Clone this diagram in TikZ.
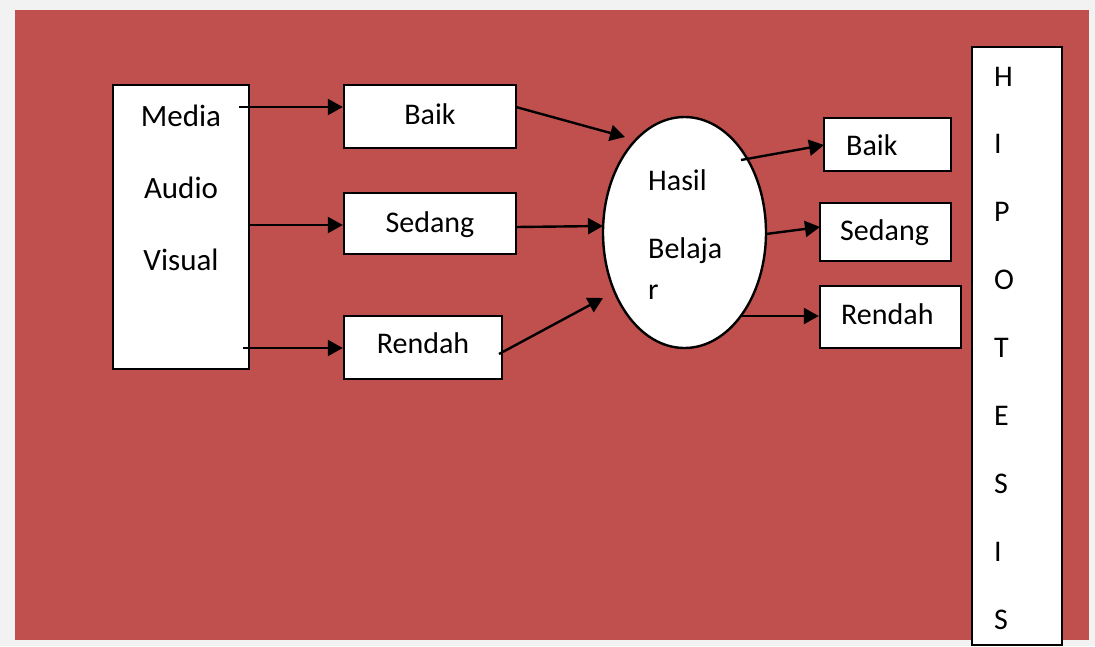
\documentclass[tikz,border=0pt]{standalone}
\usepackage{fontspec}
\setmainfont{Carlito}
\usetikzlibrary{arrows.meta,shapes.geometric}
\definecolor{bgred}{HTML}{C0504D}
\definecolor{bggray}{HTML}{F2F2F2}
\tikzset{
  box/.style={draw=black, fill=white, line width=2.4pt, inner sep=0pt},
  oval/.style={ellipse, draw=black, fill=white, line width=2.4pt, inner sep=0pt},
  txt/.style={font=\fontsize{30}{36}\selectfont, inner sep=0pt, text=black},
  bigtxt/.style={font=\fontsize{31}{37}\selectfont, inner sep=0pt, text=black},
  arr/.style={line width=2.4pt, -{Triangle[length=15pt,width=16pt]}},
}
\begin{document}
\begin{tikzpicture}[x=1pt,y=-1pt]
\useasboundingbox (0,0) rectangle (1095,646);
\fill[bggray] (0,0) rectangle (1095,646);
\fill[bgred] (15,10) rectangle (1089,640);

% boxes
\node[box, minimum width=136, minimum height=284] (media) at (181,227) {};
\node[box, minimum width=172, minimum height=63] (b1) at (430,116.5) {};
\node[box, minimum width=172, minimum height=61] (s1) at (430,223.5) {};
\node[box, minimum width=158, minimum height=63] (r1) at (423,347.5) {};
\node[oval, minimum width=163, minimum height=231] (hb) at (684.5,232.5) {};
\node[box, minimum width=127, minimum height=53] (b2) at (887.5,144.5) {};
\node[box, minimum width=131, minimum height=58] (s2) at (885.5,232) {};
\node[box, minimum width=141, minimum height=62] (r2) at (890.5,317) {};
\node[box, minimum width=90, minimum height=598] (hip) at (1017,346) {};

% texts
\node[bigtxt, anchor=base] (mt1) at (181,126) {Media};
\node[bigtxt, anchor=base] (mt2) at (181,198) {Audio};
\node[bigtxt, anchor=base] (mt3) at (181,270) {Visual};
\node[txt, anchor=base] (b1t) at (430,124) {Baik};
\node[txt, anchor=base] (s1t) at (430,232) {Sedang};
\node[txt, anchor=base] (r1t) at (423,353) {Rendah};
\node[txt, anchor=base west] (hbt1) at (648,190) {Hasil};
\node[txt, anchor=base west] (hbt2) at (648,258) {Belaja};
\node[txt, anchor=base west] (hbt3) at (648,299) {r};
\node[txt, anchor=base west] (b2t) at (846,155) {Baik};
\node[txt, anchor=base west] (s2t) at (840,240) {Sedang};
\node[txt, anchor=base west] (r2t) at (841,324) {Rendah};
\foreach \l [count=\i from 0] in {H,I,P,O,T,E,S,I,S}{
  \node[txt, anchor=base west] (hipt\i) at (994,86+67.9*\i) {\l};
}

% connector end points
\coordinate (m1) at (239,107);
\coordinate (m2) at (249,225);
\coordinate (m3) at (243,348);
\coordinate (b1o) at (516,107);
\coordinate (b1i) at (625,137);
\coordinate (s1o) at (516,227);
\coordinate (s1i) at (603,226);
\coordinate (r1o) at (499,354);
\coordinate (r1i) at (603,298);
\coordinate (h1) at (741,160);
\coordinate (h1i) at (824,145);
\coordinate (h2) at (766,234);
\coordinate (h2i) at (820,227);
\coordinate (h3) at (742,316);

% connectors
\draw[arr] (m1) -- (m1 -| b1.west);
\draw[arr] (m2) -- (m2 -| s1.west);
\draw[arr] (m3) -- (m3 -| r1.west);
\draw[arr] (b1o) -- (b1i);
\draw[arr] (s1o) -- (s1i);
\draw[arr] (r1o) -- (r1i);
\draw[arr] (h1) -- (h1i);
\draw[arr] (h2) -- (h2i);
\draw[arr] (h3) -- (h3 -| r2.west);
\end{tikzpicture}
\end{document}
